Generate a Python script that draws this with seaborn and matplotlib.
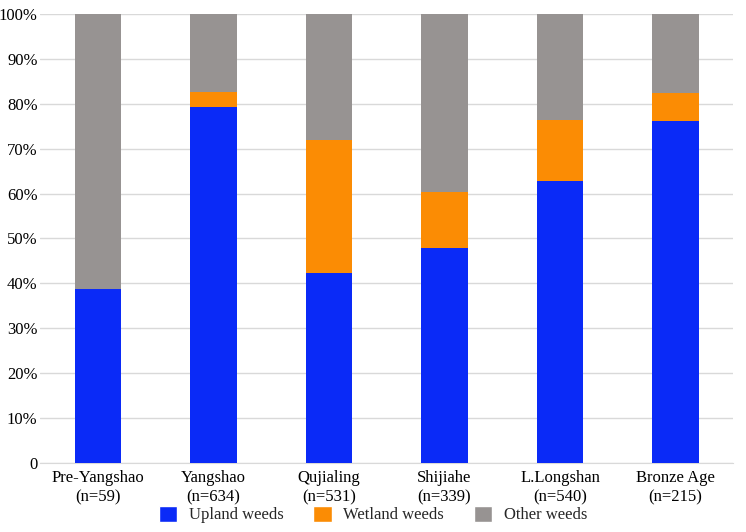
import numpy as np
import pandas as pd
import matplotlib
matplotlib.use("Agg")
import matplotlib.pyplot as plt
import seaborn as sns
from matplotlib.patches import Patch

# data (percent of weed seeds)
periods = ['Pre-Yangshao\n(n=59)', 'Yangshao\n(n=634)', 'Qujialing\n(n=531)',
           'Shijiahe\n(n=339)', 'L.Longshan\n(n=540)', 'Bronze Age\n(n=215)']
upland = [38.8, 79.3, 42.3, 47.8, 62.8, 76.2]
wetland = [0.0, 3.4, 29.6, 12.6, 13.6, 6.3]
other = [100 - u - w for u, w in zip(upland, wetland)]

colors = {'Upland weeds': '#0a2af7', 'Wetland weeds': '#fb8c04', 'Other weeds': '#979392'}

sns.set_style('white')
plt.rcParams['font.family'] = ['Liberation Serif', 'DejaVu Serif']

fig = plt.figure(figsize=(7.46, 5.32), dpi=100)
ax = fig.add_axes([0.054, 0.1297, 0.929, 0.844])

df = pd.DataFrame({'period': periods, 'upland': upland, 'wetland': wetland, 'other': other})
bottom_w = df['upland'].values
bottom_o = (df['upland'] + df['wetland']).values

kw = dict(width=0.4, saturation=1, ax=ax, zorder=3, linewidth=0)
sns.barplot(data=df, x='period', y='upland', color=colors['Upland weeds'], **kw)
sns.barplot(data=df, x='period', y='wetland', color=colors['Wetland weeds'], bottom=bottom_w, **kw)
sns.barplot(data=df, x='period', y='other', color=colors['Other weeds'], bottom=bottom_o, **kw)

ax.set_ylim(0, 100)
ax.set_xlim(-0.5, 5.5)
ax.set_yticks(np.arange(0, 101, 10))
ax.set_yticklabels(['0'] + [f'{v}%' for v in range(10, 101, 10)])
ax.yaxis.grid(True, color='#d9d9d9', linewidth=1, zorder=0)
ax.set_xlabel('')
ax.set_ylabel('')
for s in ['top', 'right', 'left']:
    ax.spines[s].set_visible(False)
ax.spines['bottom'].set_color('#d9d9d9')
ax.tick_params(axis='both', length=0, labelsize=12, colors='black')
ax.tick_params(axis='x', pad=5)
ax.tick_params(axis='y', pad=2)
for lab in ax.get_xticklabels():
    lab.set_linespacing(1.25)

handles = [Patch(facecolor=c, label=k) for k, c in colors.items()]
fig.legend(handles=handles, loc='lower center', ncol=3, frameon=False,
           bbox_to_anchor=(0.5, -0.012), fontsize=12, handlelength=1.1, handleheight=1.1,
           columnspacing=1.8, handletextpad=0.7)

fig.savefig('out.png', dpi=100)
